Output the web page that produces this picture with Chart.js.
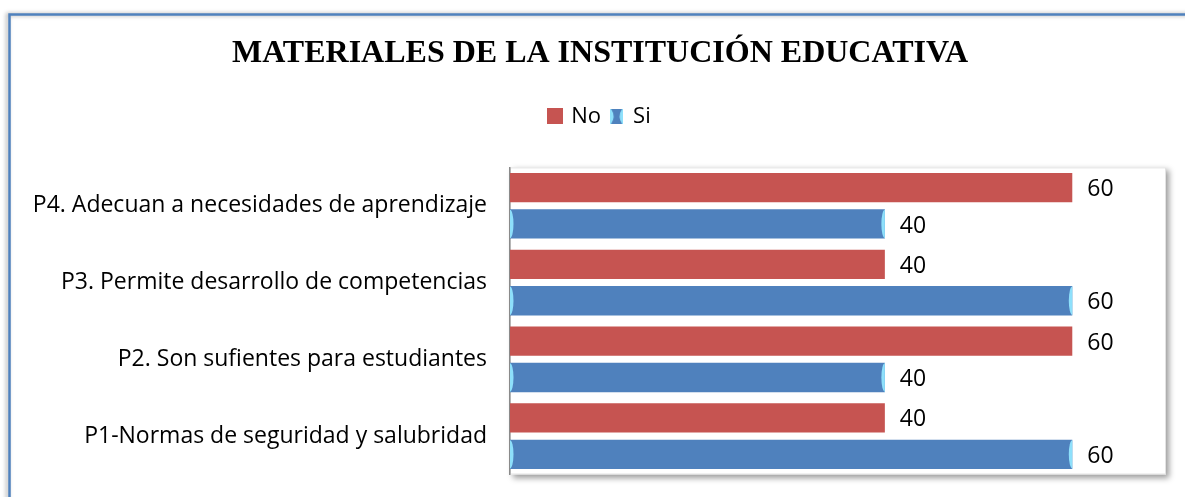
<!DOCTYPE html>
<html>
<head>
<meta charset="utf-8">
<script src="https://cdn.jsdelivr.net/npm/chart.js@4.4.1/dist/chart.umd.min.js"></script>
<style>
    html, body { margin: 0; padding: 0; background: #fff; }
    #wrap { width: 1185px; height: 497px; position: relative; }
</style>
</head>
<body>
<div id="wrap"><canvas id="materialesChart"></canvas></div>
<script>
// datos del grafico
const categories = [
    'P4. Adecuan a necesidades de aprendizaje',
    'P3. Permite desarrollo de competencias',
    'P2. Son sufientes para estudiantes',
    'P1-Normas de seguridad y salubridad'
];
const noValues = [60, 40, 60, 40];
const siValues = [40, 60, 40, 60];
const seriesNames = ['No', 'Si'];
const chartTitle = 'MATERIALES DE LA INSTITUCIÓN EDUCATIVA';

const RED = '#C65451';
const BLUE = '#4F81BD';
const CYAN = '#8EE0FB';
const FONT = '"Open Sans"';

// iconos de la leyenda
function makeIcon(kind) {
    let c = document.createElement('canvas');
    let g = c.getContext('2d');
    if (kind === 'no') {
        c.width = 16; c.height = 16;
        g.fillStyle = RED;
        g.fillRect(0, 0, 16, 16);
    } else {
        c.width = 13; c.height = 15;
        g.fillStyle = CYAN;
        g.fillRect(0, 0, 13, 15);
        g.fillStyle = BLUE;
        g.beginPath();
        g.moveTo(1, 0);
        g.lineTo(12, 0);
        g.quadraticCurveTo(7, 7.5, 12, 15);
        g.lineTo(1, 15);
        g.quadraticCurveTo(6, 7.5, 1, 0);
        g.fill();
    }
    return c;
}
const icons = [makeIcon('no'), makeIcon('si')];

// marco azul, sombra del area y etiquetas de valor
const decorPlugin = {
    id: 'decor',
    beforeDraw(chart) {
        let ctx = chart.ctx;
        let a = chart.chartArea;
        ctx.save();
        ctx.shadowColor = 'rgba(0,0,0,0.35)';
        ctx.shadowBlur = 4;
        ctx.shadowOffsetX = -2;
        ctx.strokeStyle = BLUE;
        ctx.lineWidth = 2.5;
        ctx.beginPath();
        ctx.moveTo(9.5, 520);
        ctx.lineTo(9.5, 14.5);
        ctx.lineTo(1200, 14.5);
        ctx.stroke();
        ctx.restore();

        ctx.save();
        ctx.shadowColor = 'rgba(0,0,0,0.4)';
        ctx.shadowBlur = 6;
        ctx.shadowOffsetX = 3;
        ctx.shadowOffsetY = 3;
        ctx.fillStyle = '#fff';
        ctx.fillRect(a.left, a.top, a.right - a.left, a.bottom - a.top);
        ctx.restore();
        ctx.save();
        ctx.strokeStyle = '#e3e3e3';
        ctx.lineWidth = 1;
        ctx.strokeRect(a.left + 0.5, a.top + 0.5, a.right - a.left - 1, a.bottom - a.top - 1);
        ctx.restore();
    },
    afterDatasetsDraw(chart) {
        let ctx = chart.ctx;
        // tapas celestes de las barras azules
        let siMeta = chart.getDatasetMeta(1);
        siMeta.data.forEach(function(bar) {
            let h = bar.height;
            let top = bar.y - h / 2;
            ctx.save();
            ctx.beginPath();
            ctx.rect(bar.base, top, bar.x - bar.base, h);
            ctx.clip();
            ctx.fillStyle = CYAN;
            ctx.beginPath();
            ctx.ellipse(bar.x, bar.y, 3.5, h / 2 - 0.5, 0, 0, Math.PI * 2);
            ctx.fill();
            ctx.beginPath();
            ctx.ellipse(bar.base, bar.y, 3.5, h / 2 - 0.5, 0, 0, Math.PI * 2);
            ctx.fill();
            ctx.restore();
        });
        // valores
        ctx.save();
        ctx.font = '23px ' + FONT;
        ctx.fillStyle = '#000';
        ctx.textAlign = 'left';
        ctx.textBaseline = 'middle';
        chart.data.datasets.forEach(function(ds, i) {
            let meta = chart.getDatasetMeta(i);
            meta.data.forEach(function(bar, j) {
                ctx.fillText(String(ds.data[j]), bar.x + 15, bar.y + 2);
            });
        });
        ctx.restore();
    }
};

let ctx = document.getElementById('materialesChart').getContext('2d');

new Chart(ctx, {
    type: 'bar',
    data: {
        labels: categories,
        datasets: [{
            label: seriesNames[0],
            data: noValues,
            backgroundColor: RED,
            borderWidth: 0
        }, {
            label: seriesNames[1],
            data: siValues,
            backgroundColor: BLUE,
            borderWidth: 0
        }]
    },
    options: {
        indexAxis: 'y',
        responsive: true,
        maintainAspectRatio: false,
        animation: false,
        categoryPercentage: 0.947,
        barPercentage: 0.806,
        layout: {
            padding: { left: 34, right: 19, top: 0, bottom: 22.5 }
        },
        scales: {
            x: {
                position: 'top',
                min: 0,
                max: 70,
                ticks: { display: false },
                grid: { display: false },
                border: { display: false },
                afterFit: function(scale) { scale.height = 30; }
            },
            y: {
                // tickLength separa las etiquetas sin agrandar el relleno vertical
                grid: { display: false, drawTicks: true, tickLength: 15 },
                border: { display: true, color: '#8a8a8a', width: 1.5 },
                ticks: {
                    color: '#000',
                    padding: 8,
                    font: { family: FONT, size: 23 }
                },
                afterFit: function(scale) { scale.width = 476; }
            }
        },
        plugins: {
            title: {
                display: true,
                text: chartTitle,
                color: '#000',
                font: { family: '"Liberation Serif", "Times New Roman", serif', size: 32, weight: 'bold' },
                padding: { top: 35, bottom: 22 }
            },
            legend: {
                display: true,
                position: 'top',
                labels: {
                    color: '#000',
                    font: { family: FONT, size: 22 },
                    boxWidth: 11,
                    boxHeight: 11,
                    padding: 10,
                    usePointStyle: true,
                    generateLabels: function(chart) {
                        let items = Chart.defaults.plugins.legend.labels.generateLabels(chart);
                        items.forEach(function(it, i) { it.pointStyle = icons[i]; });
                        return items;
                    }
                }
            },
            tooltip: { enabled: false }
        }
    },
    plugins: [decorPlugin]
});
</script>
</body>
</html>
